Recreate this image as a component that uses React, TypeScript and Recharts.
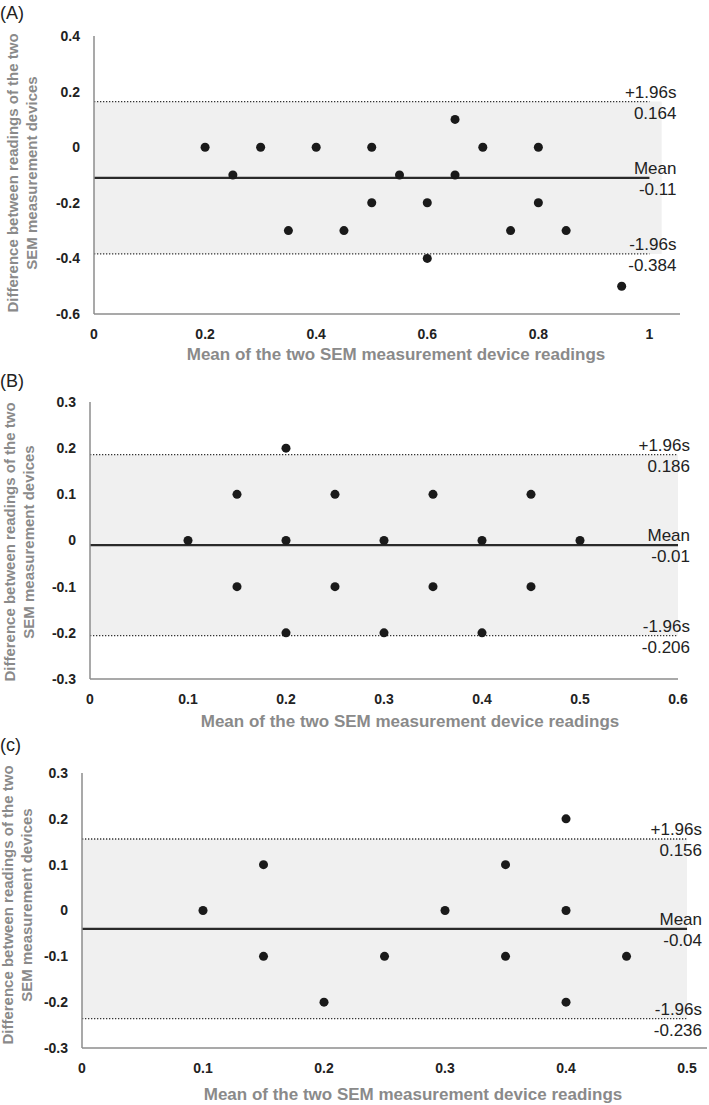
import React from "react";
import { ScatterChart, Scatter, XAxis, YAxis, ZAxis, ReferenceLine, ReferenceArea } from "recharts";

// Panel A data
const aMeans = [0.2, 0.25, 0.3, 0.35, 0.4, 0.45, 0.5, 0.5, 0.55, 0.6, 0.6, 0.65, 0.65, 0.7, 0.75, 0.8, 0.8, 0.85, 0.95];
const aDiffs = [0, -0.1, 0, -0.3, 0, -0.3, 0, -0.2, -0.1, -0.2, -0.4, 0.1, -0.1, 0, -0.3, 0, -0.2, -0.3, -0.5];
const aLimits = [0.164, -0.11, -0.384]; // upper, mean, lower
const aXTicks = [0, 0.2, 0.4, 0.6, 0.8, 1];
const aYTicks = [-0.6, -0.4, -0.2, 0, 0.2, 0.4];

// Panel B data
const bMeans = [0.1, 0.15, 0.15, 0.2, 0.2, 0.2, 0.25, 0.25, 0.3, 0.3, 0.35, 0.35, 0.4, 0.4, 0.45, 0.45, 0.5];
const bDiffs = [0, 0.1, -0.1, 0.2, 0, -0.2, 0.1, -0.1, 0, -0.2, 0.1, -0.1, 0, -0.2, 0.1, -0.1, 0];
const bLimits = [0.186, -0.01, -0.206];
const bXTicks = [0, 0.1, 0.2, 0.3, 0.4, 0.5, 0.6];
const bYTicks = [-0.3, -0.2, -0.1, 0, 0.1, 0.2, 0.3];

// Panel C data
const cMeans = [0.1, 0.15, 0.15, 0.2, 0.25, 0.3, 0.35, 0.35, 0.4, 0.4, 0.4, 0.45];
const cDiffs = [0, 0.1, -0.1, -0.2, -0.1, 0, 0.1, -0.1, 0.2, 0, -0.2, -0.1];
const cLimits = [0.156, -0.04, -0.236];
const cXTicks = [0, 0.1, 0.2, 0.3, 0.4, 0.5];
const cYTicks = [-0.3, -0.2, -0.1, 0, 0.1, 0.2, 0.3];

const FONT = "'Liberation Sans', Arial, Helvetica, sans-serif";
const X_TITLE = "Mean of the two SEM measurement device readings";

function LimitLabel(props: any) {
  const { viewBox, top, bottom, offsetX } = props;
  if (!viewBox) return null;
  const x = viewBox.x + viewBox.width + offsetX;
  const y = viewBox.y;
  return (
    <g>
      <text x={x} y={y - 4} textAnchor="end" fontSize={17} fill="#222" fontFamily={FONT}>{top}</text>
      <text x={x} y={y + 17} textAnchor="end" fontSize={17} fill="#222" fontFamily={FONT}>{bottom}</text>
    </g>
  );
}

function Panel(props: any) {
  const {
    top, height, margin, yAxisWidth, xAxisHeight, xDomain, yDomain, xTicks, yTicks,
    means, diffs, limits, lineEnd, bandEnd, labelOffset, letter, letterTop,
    yTitleX, yTitleY, xTitleX, xTitleY,
  } = props;
  const data = means.map((m: number, i: number) => ({ x: m, y: diffs[i] }));
  const [upper, mean, lower] = limits;
  const tickStyle = { fontSize: 14, fontWeight: 700, fill: "#222", fontFamily: FONT };
  return (
    <>
      <div style={{ position: "absolute", left: 0, top: letterTop, fontSize: 18, fontFamily: FONT, color: "#222", lineHeight: "20px" }}>{letter}</div>
      <div
        style={{
          position: "absolute", left: yTitleX, top: yTitleY, transform: "translate(-50%, -50%) rotate(-90deg)",
          whiteSpace: "nowrap", textAlign: "center", fontSize: 15, fontWeight: 700, color: "#8a8a8a",
          fontFamily: FONT, lineHeight: "19px",
        }}
      >
        Difference between readings of the two<br />SEM measurement devices
      </div>
      <div
        style={{
          position: "absolute", left: xTitleX, top: xTitleY, transform: "translate(-50%, -50%)",
          whiteSpace: "nowrap", fontSize: 17, fontWeight: 700, color: "#8a8a8a", fontFamily: FONT,
        }}
      >
        {X_TITLE}
      </div>
      <div style={{ position: "absolute", left: 0, top }}>
        <ScatterChart width={709} height={height} margin={margin}>
          <ReferenceArea x1={0} x2={bandEnd} y1={lower} y2={upper} fill="#f0f0f0" fillOpacity={1} stroke="none" />
          <XAxis
            type="number" dataKey="x" domain={xDomain} ticks={xTicks} height={xAxisHeight}
            axisLine={{ stroke: "#8c8c8c", strokeWidth: 1.5 }} tickLine={false} tickSize={0} tickMargin={15}
            tick={tickStyle} interval={0} allowDataOverflow
          />
          <YAxis
            type="number" dataKey="y" domain={yDomain} ticks={yTicks} width={yAxisWidth}
            axisLine={{ stroke: "#8c8c8c", strokeWidth: 1.5 }} tickLine={false} tickSize={0} tickMargin={14}
            tick={tickStyle} interval={0} allowDataOverflow
          />
          <ZAxis range={[80, 80]} />
          <ReferenceLine
            segment={[{ x: 0, y: upper }, { x: lineEnd, y: upper }]}
            stroke="#333" strokeWidth={1.3} strokeDasharray="1.3 1.7"
            label={<LimitLabel top="+1.96s" bottom={String(upper)} offsetX={labelOffset} />}
          />
          <ReferenceLine
            segment={[{ x: 0, y: mean }, { x: lineEnd, y: mean }]}
            stroke="#2a2a2a" strokeWidth={2.2}
            label={<LimitLabel top="Mean" bottom={String(mean)} offsetX={labelOffset} />}
          />
          <ReferenceLine
            segment={[{ x: 0, y: lower }, { x: lineEnd, y: lower }]}
            stroke="#333" strokeWidth={1.3} strokeDasharray="1.3 1.7"
            label={<LimitLabel top="-1.96s" bottom={String(lower)} offsetX={labelOffset} />}
          />
          <Scatter data={data} fill="#1a1a1a" isAnimationActive={false} />
        </ScatterChart>
      </div>
    </>
  );
}

export default function App() {
  return (
    <div style={{ position: "absolute", left: 0, top: 0, width: 709, height: 1105, background: "#fff", overflow: "hidden" }}>
      <Panel
        top={0} height={370} margin={{ top: 36, right: 29, left: 0, bottom: 0 }}
        yAxisWidth={94} xAxisHeight={56} xDomain={[0, 1.055]} yDomain={[-0.6, 0.4]}
        xTicks={aXTicks} yTicks={aYTicks} means={aMeans} diffs={aDiffs} limits={aLimits}
        lineEnd={1.0} bandEnd={1.022} labelOffset={27} letter="(A)" letterTop={3}
        yTitleX={22} yTitleY={173} xTitleX={396} xTitleY={355}
      />
      <Panel
        top={370} height={360} margin={{ top: 32, right: 31, left: 0, bottom: 0 }}
        yAxisWidth={90} xAxisHeight={51} xDomain={[0, 0.6]} yDomain={[-0.3, 0.3]}
        xTicks={bXTicks} yTicks={bYTicks} means={bMeans} diffs={bDiffs} limits={bLimits}
        lineEnd={0.6} bandEnd={0.6} labelOffset={12} letter="(B)" letterTop={371}
        yTitleX={19} yTitleY={542} xTitleX={410} xTitleY={722}
      />
      <Panel
        top={730} height={375} margin={{ top: 43, right: 2, left: 0, bottom: 0 }}
        yAxisWidth={82} xAxisHeight={57} xDomain={[0, 0.5165]} yDomain={[-0.3, 0.3]}
        xTicks={cXTicks} yTicks={cYTicks} means={cMeans} diffs={cDiffs} limits={cLimits}
        lineEnd={0.5} bandEnd={0.5} labelOffset={15} letter="(c)" letterTop={735}
        yTitleX={17} yTitleY={905} xTitleX={413} xTitleY={1095}
      />
    </div>
  );
}
